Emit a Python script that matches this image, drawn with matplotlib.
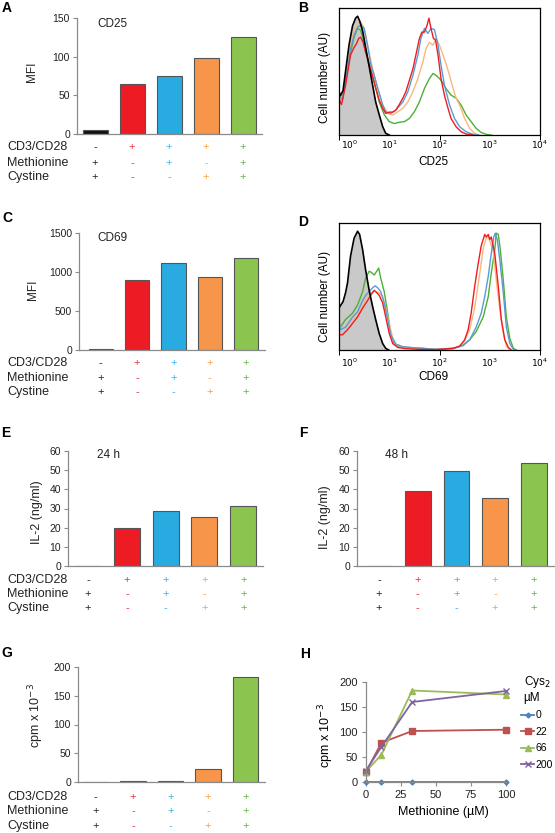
import numpy as np
import matplotlib
matplotlib.use("Agg")
import matplotlib.pyplot as plt
from matplotlib.transforms import blended_transform_factory
from matplotlib.ticker import LogLocator, NullFormatter

plt.rcParams['font.family'] = ['Liberation Sans', 'DejaVu Sans']

W, H = 555, 833

# ---- data -------------------------------------------------------------
row_names = ['CD3/CD28', 'Methionine', 'Cystine']
signs = [['-', '+', '+', '+', '+'],
         ['+', '-', '+', '-', '+'],
         ['+', '-', '-', '+', '+']]

cd25_mfi = [5, 65, 75, 98, 126]
cd69_mfi = [9, 897, 1115, 935, 1180]
il2_24h = [0, 19.7, 28.8, 25.7, 31.2]
il2_48h = [0, 38.9, 49.6, 35.4, 53.8]
prolif_cpm = [0, 1, 1, 22.5, 183]

# panel H
met_uM = [0, 11, 33, 100]
cys_levels = ['0', '22', '66', '200']
cpm_cys0 = [0, 0, 0, 0]
cpm_cys22 = [20, 78.5, 102, 104.6]
cpm_cys66 = [21, 54.5, 183, 175]
cpm_cys200 = [23, 70.5, 160, 182]

# flow histograms: x in decades (log10 of fluorescence), y in % of max
cd25_ctrl_x = [0, 0.03, 0.08, 0.13, 0.2, 0.27, 0.33, 0.37, 0.41, 0.47, 0.53, 0.6, 0.67, 0.73, 0.8, 0.87, 0.93, 1.0]
cd25_ctrl_y = [34, 31, 35, 50, 71, 86, 92, 93.5, 90, 82, 69, 54, 39, 26, 16, 6.5, 1.3, 0]
cd25_red_x = [0, 0.01, 0.05, 0.13, 0.23, 0.3, 0.35, 0.39, 0.43, 0.48, 0.53, 0.6, 0.67, 0.73, 0.8, 0.87, 0.93, 1.0,
              1.07, 1.13, 1.2, 1.27, 1.33, 1.4, 1.47, 1.53, 1.6, 1.65, 1.7, 1.75, 1.79, 1.83, 1.88, 1.92, 1.97,
              2.03, 2.1, 2.17, 2.23, 2.33, 2.43, 2.53, 2.67]
cd25_red_y = [30, 27.5, 24, 39, 63, 69, 72, 76, 77, 73, 65, 56, 46, 37, 27.5, 21, 17, 18, 18, 19.6, 24, 29, 34,
              43, 52, 63, 76, 81, 81, 86, 92, 84, 76, 75, 63, 44.5, 31, 21, 13, 6.5, 2.6, 0.8, 0]
cd25_blue_x = [0, 0.07, 0.13, 0.23, 0.3, 0.37, 0.43, 0.5, 0.57, 0.63, 0.7, 0.77, 0.87, 0.93, 1.03, 1.13, 1.27,
               1.37, 1.47, 1.57, 1.63, 1.7, 1.77, 1.83, 1.9, 1.97, 2.03, 2.1, 2.2, 2.3, 2.4, 2.53, 2.67, 2.77]
cd25_blue_y = [31, 27.5, 42, 68, 78.5, 85, 86.4, 84, 70, 56, 47, 37, 23.6, 18.3, 17, 19.6, 26, 34, 47, 63, 76,
               84, 80, 84, 83, 71, 55, 39, 23.6, 13, 6.5, 2.6, 0.5, 0]
cd25_orange_x = [0, 0.07, 0.13, 0.23, 0.3, 0.37, 0.43, 0.5, 0.57, 0.67, 0.77, 0.87, 0.97, 1.07, 1.17, 1.27,
                 1.37, 1.47, 1.57, 1.67, 1.73, 1.8, 1.87, 1.93, 2.0, 2.07, 2.13, 2.2, 2.27, 2.33, 2.4, 2.5,
                 2.6, 2.7, 2.8]
cd25_orange_y = [31, 29, 42, 71, 82.5, 87.7, 89, 84, 71, 52, 36.6, 23.6, 17, 15.7, 18.3, 21, 26, 34, 44.5,
                 57.6, 68, 73, 70.7, 76, 70.7, 63, 56, 47, 36.6, 29, 23.6, 13, 5.2, 1.3, 0]
cd25_green_x = [0, 0.07, 0.13, 0.23, 0.3, 0.37, 0.43, 0.5, 0.6, 0.7, 0.8, 0.9, 1.0, 1.1, 1.2, 1.3, 1.4, 1.5,
                1.6, 1.7, 1.8, 1.87, 1.93, 2.0, 2.07, 2.13, 2.23, 2.33, 2.43, 2.53, 2.63, 2.73, 2.83, 2.93, 3.03]
cd25_green_y = [31, 29, 42, 65, 77, 84, 82.5, 73, 55, 42, 26, 16, 10.5, 9, 10, 10.5, 13, 18.3, 26, 36.6, 44.5,
                48.4, 47, 44.5, 40.6, 36.6, 31.4, 29, 23.6, 15.7, 10.5, 5.2, 2, 0.5, 0]

cd69_ctrl_x = [0, 0.03, 0.08, 0.13, 0.17, 0.23, 0.3, 0.37, 0.41, 0.47, 0.53, 0.6, 0.67, 0.73, 0.8, 0.87, 0.93, 0.99]
cd69_ctrl_y = [33, 35, 38, 45, 53, 74, 88, 93.5, 91, 79, 63, 47, 34, 24, 13, 5, 1.3, 0]
cd69_red_x = [0, 0.01, 0.07, 0.17, 0.27, 0.37, 0.47, 0.57, 0.63, 0.7, 0.73, 0.8, 0.87, 0.93, 1.0, 1.07, 1.17,
              1.33, 1.6, 1.93, 2.27, 2.4, 2.5, 2.57, 2.63, 2.7, 2.77, 2.83, 2.9, 2.93, 2.97, 3.0, 3.03, 3.1,
              3.17, 3.23, 3.3, 3.37, 3.43]
cd69_red_y = [22, 12, 12, 16, 21, 26, 33, 39, 43, 47, 46, 43, 37, 26, 13, 5, 2, 1, 0.5, 0.3, 1.3, 3, 8, 16, 29,
              50, 68, 82, 91, 89, 91, 87, 89, 76, 50, 24, 8, 2, 0]
cd69_blue_x = [0, 0.03, 0.13, 0.27, 0.37, 0.47, 0.53, 0.6, 0.67, 0.72, 0.77, 0.83, 0.9, 0.97, 1.03, 1.13, 1.27,
               1.47, 1.67, 1.93, 2.27, 2.47, 2.6, 2.73, 2.83, 2.9, 2.97, 3.03, 3.08, 3.11, 3.15, 3.2, 3.27,
               3.33, 3.4, 3.47, 3.5]
cd69_blue_y = [24, 16, 18, 26, 30, 39, 43, 46, 49, 50.5, 49, 46, 37, 24, 12, 4.7, 2.6, 1.8, 1.3, 0.5, 1.3, 3.4,
               8, 18, 29, 42, 58, 76, 89, 92, 87, 71, 45, 18, 5, 0.5, 0]
cd69_orange_x = [0, 0.03, 0.13, 0.27, 0.37, 0.47, 0.53, 0.6, 0.67, 0.73, 0.8, 0.87, 0.93, 1.0, 1.07, 1.13, 1.27,
                 1.47, 1.67, 1.93, 2.27, 2.4, 2.5, 2.6, 2.7, 2.8, 2.87, 2.93, 2.97, 3.0, 3.07, 3.13, 3.2, 3.27,
                 3.33, 3.4]
cd69_orange_y = [24, 17, 18, 24, 28, 35, 40, 44, 46, 46, 45, 42, 33, 21, 9, 4.5, 2.2, 1.5, 1.2, 0.6, 1.5, 3, 7,
                 16, 33, 60, 80, 88, 90, 86, 78, 55, 32, 13, 3, 0]
cd69_green_x = [0, 0.01, 0.13, 0.27, 0.37, 0.47, 0.53, 0.6, 0.65, 0.7, 0.75, 0.79, 0.83, 0.9, 0.97, 1.03, 1.1,
                1.2, 1.47, 1.93, 2.27, 2.47, 2.6, 2.73, 2.87, 2.97, 3.03, 3.1, 3.13, 3.17, 3.21, 3.27, 3.33,
                3.4, 3.47, 3.53]
cd69_green_y = [24, 17, 24, 29, 35.5, 46, 56.6, 62, 61, 59, 62, 64.5, 56.6, 46, 29, 13, 5, 2.6, 1.8, 0.5, 1, 4,
                8, 14.5, 26, 42, 60.5, 79, 92, 91, 79, 55, 26, 9, 1.3, 0]

# ---- colours ----------------------------------------------------------
bar_colors = ['#111111', '#ed1c24', '#29abe2', '#f7964a', '#8cc450']
sign_colors = ['#222222', '#ee2e3a', '#2fb5ef', '#f7a14a', '#62b447']
hist_colors = {'red': '#ee1c24', 'blue': '#5b9bd5', 'orange': '#fbb77b', 'green': '#4cb034'}
axis_gray = '#8a8a8a'

fig = plt.figure(figsize=(W / 100, H / 100), dpi=100)


def px_axes(l, t, r, b):
    return fig.add_axes([l / W, 1 - b / H, (r - l) / W, (b - t) / H])


def fy(y):
    return 1 - y / H


def panel_letter(txt, x, y):
    fig.text(x / W, fy(y), txt, fontsize=10, fontweight='bold', ha='center', va='center')


def bar_panel(rect, values, yticks, ylabel, ylab_xy, xlim, rows_y, note=None, note_xy=None,
              row_labels=True, width=0.68, ylab_size=8.5):
    ax = px_axes(*rect)
    x = np.arange(len(values))
    ax.bar(x, values, width=width, color=bar_colors, edgecolor='#555555', linewidth=0.8)
    ax.set_xlim(*xlim)
    ax.set_ylim(yticks[0], yticks[-1])
    ax.set_yticks(yticks)
    ax.set_xticks([])
    for s in ['top', 'right']:
        ax.spines[s].set_visible(False)
    for s in ['left', 'bottom']:
        ax.spines[s].set_color(axis_gray)
        ax.spines[s].set_linewidth(0.9)
    ax.tick_params(axis='y', direction='out', length=3, width=0.8, color=axis_gray,
                   labelsize=7.5, labelcolor='#222222', pad=2)
    fig.text(ylab_xy[0] / W, fy(ylab_xy[1]), ylabel, rotation=90, ha='center', va='center',
             fontsize=ylab_size, color='#222222')
    if note:
        fig.text(note_xy[0] / W, fy(note_xy[1]), note, ha='left', va='center', fontsize=8.5,
                 color='#222222')
    tr = blended_transform_factory(ax.transData, fig.transFigure)
    for r, yy in enumerate(rows_y):
        if row_labels:
            fig.text(7 / W, fy(yy), row_names[r], ha='left', va='center', fontsize=9, color='#222222')
        for i in range(len(values)):
            ax.text(i, fy(yy), signs[r][i], transform=tr, ha='center', va='center',
                    fontsize=8, color=sign_colors[i], clip_on=False)
    return ax


def hist_panel(rect, ctrl, curves, xlabel, xlab_y, tick_y):
    ax = px_axes(*rect)
    ax.set_xscale('log')
    gx = 10 ** np.array(ctrl[0])
    ax.fill_between(gx, ctrl[1], color='#c9c9c9', lw=0)
    for cx, cy, c in curves:
        ax.plot(10 ** np.array(cx), cy, color=c, lw=1.0)
    ax.plot(gx, ctrl[1], color='black', lw=1.2)
    ax.set_xlim(1, 1e4)
    ax.set_ylim(0, 100)
    ax.set_yticks([])
    ax.xaxis.set_major_locator(LogLocator(base=10))
    ax.xaxis.set_minor_locator(LogLocator(base=10, subs=np.arange(2, 10)))
    ax.xaxis.set_major_formatter(NullFormatter())
    ax.xaxis.set_minor_formatter(NullFormatter())
    ax.tick_params(axis='x', which='major', direction='out', length=3.5, width=0.7)
    ax.tick_params(axis='x', which='minor', direction='out', length=2.5, width=0.6)
    for s in ax.spines.values():
        s.set_linewidth(0.9)
    tr = blended_transform_factory(ax.transData, fig.transFigure)
    label_pos = [10 ** 0.22, 10, 100, 1000, 10000]
    for k, xp in enumerate(label_pos):
        ax.text(xp, fy(tick_y), r'$10^{%d}$' % k, transform=tr, ha='center', va='center',
                fontsize=6.5, clip_on=False)
    fig.text(433 / W, fy(xlab_y), xlabel, ha='center', va='center', fontsize=8.5)
    return ax


# ---- A ----
panel_letter('A', 7, 7.5)
bar_panel((77, 18, 262, 134), cd25_mfi, [0, 50, 100, 150], 'MFI', (32, 72), (-0.49, 4.51),
          [147, 163, 177], note='CD25', note_xy=(97, 24))

# ---- B ----
panel_letter('B', 303, 8)
hist_panel((339, 8, 540, 135), (cd25_ctrl_x, cd25_ctrl_y),
           [(cd25_green_x, cd25_green_y, hist_colors['green']),
            (cd25_orange_x, cd25_orange_y, hist_colors['orange']),
            (cd25_blue_x, cd25_blue_y, hist_colors['blue']),
            (cd25_red_x, cd25_red_y, hist_colors['red'])],
           'CD25', 162, 145)
fig.text(325 / W, fy(77), 'Cell number (AU)', rotation=90, ha='center', va='center', fontsize=8.5)

# ---- C ----
panel_letter('C', 7, 218)
bar_panel((79, 233, 265, 350), cd69_mfi, [0, 500, 1000, 1500], 'MFI', (33, 290), (-0.6, 4.52),
          [363, 378, 392], note='CD69', note_xy=(97, 238), width=0.67)

# ---- D ----
panel_letter('D', 303, 222)
hist_panel((339, 223, 540, 350), (cd69_ctrl_x, cd69_ctrl_y),
           [(cd69_green_x, cd69_green_y, hist_colors['green']),
            (cd69_orange_x, cd69_orange_y, hist_colors['orange']),
            (cd69_blue_x, cd69_blue_y, hist_colors['blue']),
            (cd69_red_x, cd69_red_y, hist_colors['red'])],
           'CD69', 377, 363)
fig.text(325 / W, fy(296), 'Cell number (AU)', rotation=90, ha='center', va='center', fontsize=8.5)

# ---- E / F ----
panel_letter('E', 6, 433)
bar_panel((68, 451, 263, 566), il2_24h, [0, 10, 20, 30, 40, 50, 60], 'IL-2 (ng/ml)', (37, 512),
          (-0.52, 4.51), [580, 594, 608], note='24 h', note_xy=(97, 455), width=0.67, ylab_size=9)
panel_letter('F', 303, 433)
bar_panel((357, 451, 554, 566), il2_48h, [0, 10, 20, 30, 40, 50, 60], 'IL-2 (ng/ml)', (325, 517),
          (-0.57, 4.52), [580, 594, 608], note='48 h', note_xy=(385, 455), width=0.67, ylab_size=9,
          row_labels=False)

# ---- G ----
panel_letter('G', 7, 653)
bar_panel((78, 667, 265, 782), prolif_cpm, [0, 50, 100, 150, 200], r'cpm x 10$^{-3}$', (36, 715),
          (-0.47, 4.52), [797, 811, 826], width=0.68, ylab_size=9)

# ---- H ----
panel_letter('H', 305, 654)
axh = px_axes(366, 682, 506, 782)
h_series = [(cpm_cys0, '#4f81bd', 'D', 2.5), (cpm_cys22, '#c0504d', 's', 4.5),
            (cpm_cys66, '#9bbb59', '^', 4.5), (cpm_cys200, '#8064a2', 'x', 4.5)]
handles = []
for (ys, c, m, ms), lab in zip(h_series, cys_levels):
    ln, = axh.plot(met_uM, ys, color=c, marker=m, ms=ms, lw=1.3, mew=1.0, label=lab, clip_on=False)
    handles.append(ln)
axh.set_xlim(0, 100)
axh.set_ylim(0, 200)
axh.set_xticks([0, 25, 50, 75, 100])
axh.set_yticks([0, 50, 100, 150, 200])
for s in ['top', 'right']:
    axh.spines[s].set_visible(False)
for s in ['left', 'bottom']:
    axh.spines[s].set_color(axis_gray)
    axh.spines[s].set_linewidth(0.9)
axh.tick_params(direction='out', length=3, width=0.8, color=axis_gray, labelsize=8,
                labelcolor='#222222', pad=3)
fig.text(326 / W, fy(735), r'cpm x 10$^{-3}$', rotation=90, ha='center', va='center', fontsize=9)
fig.text(443 / W, fy(812), 'Methionine (µM)', ha='center', va='center', fontsize=9)
leg = fig.legend(handles, cys_levels, loc='upper left', bbox_to_anchor=(521 / W, fy(674)),
                 frameon=False, title='Cys$_2$\nµM', fontsize=7.5, title_fontsize=8.5,
                 handlelength=1.25, handletextpad=0.15, labelspacing=0.62, borderpad=0,
                 borderaxespad=0)

fig.savefig('out.png', dpi=100)
